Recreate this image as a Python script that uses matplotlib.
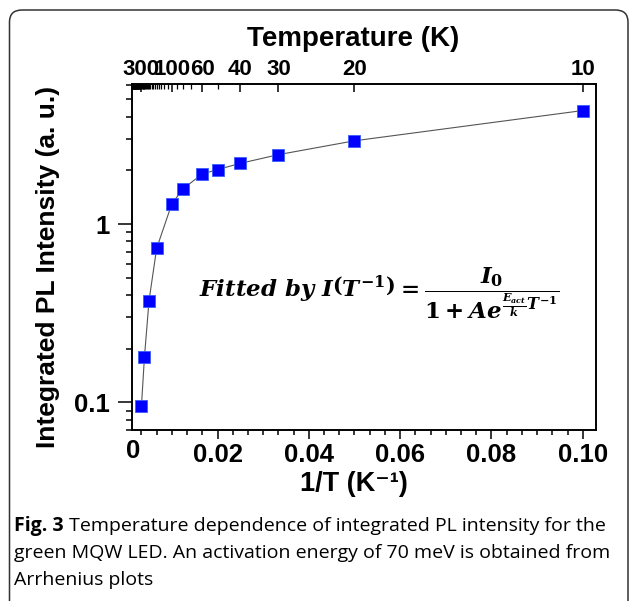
import numpy as np
import matplotlib
matplotlib.use('Agg')
import matplotlib.pyplot as plt
from matplotlib.ticker import MultipleLocator, LogLocator, NullFormatter, FixedLocator
from matplotlib.patches import FancyBboxPatch

# data
temp_K = [300, 250, 200, 150, 100, 80, 60, 50, 40, 30, 20, 10]
pl_intensity = [0.095, 0.180, 0.372, 0.730, 1.30, 1.58, 1.91, 2.02, 2.19, 2.45, 2.93, 4.33]
inv_T = [1.0 / t for t in temp_K]

top_labels_T = [300, 100, 60, 40, 30, 20, 10]
top_minor_T = [50, 70, 80, 90] + list(range(110, 300, 10)) + list(range(310, 1000, 10))

x_ticks = [0.02, 0.04, 0.06, 0.08, 0.10]
x_ticklabels = ['0.02', '0.04', '0.06', '0.08', '0.10']
y_ticks = [0.1, 1]
y_ticklabels = ['0.1', '1']

caption_bold = 'Fig. 3'
caption_lines = [' Temperature dependence of integrated PL intensity for the',
                 'green MQW LED. An activation energy of 70 meV is obtained from',
                 'Arrhenius plots']

plt.rcParams['font.family'] = ['Liberation Sans', 'DejaVu Sans']
plt.rcParams['mathtext.fontset'] = 'custom'
plt.rcParams['mathtext.it'] = 'DejaVu Serif:bold:italic'
plt.rcParams['mathtext.rm'] = 'DejaVu Serif:bold'
plt.rcParams['mathtext.bf'] = 'DejaVu Serif:bold'

W, H = 630, 601
fig = plt.figure(figsize=(W / 100, H / 100), dpi=100)

# rounded frame round the figure
frame = FancyBboxPatch((9.5 / W, -20 / H), (628 - 9.5) / W, (H - 10 + 20) / H,
                       boxstyle='round,pad=0,rounding_size=0.02',
                       transform=fig.transFigure, fill=False, ec='#333333', lw=1.1)
fig.patches.append(frame)

L, R, T, B = 131.5, 596, 84, 430
ax = fig.add_axes([L / W, 1 - B / H, (R - L) / W, (B - T) / H])

ax.plot(inv_T, pl_intensity, color='#555555', lw=0.8, zorder=2)
ax.plot(inv_T, pl_intensity, ls='none', marker='s', ms=9, mfc='#0000ff', mec='#3a5cff', mew=0.6, zorder=3)

ax.set_yscale('log')
ax.set_xlim(0.00116, 0.1029)
ax.set_ylim(0.070, 6.1)

ax.set_xticks(x_ticks)
ax.set_xticklabels(x_ticklabels)
ax.xaxis.set_minor_locator(MultipleLocator(0.02 / 6))
ax.set_yticks(y_ticks)
ax.set_yticklabels(y_ticklabels)
ax.yaxis.set_minor_locator(LogLocator(base=10, subs=np.arange(2, 10)))
ax.yaxis.set_minor_formatter(NullFormatter())

for lab in ax.get_xticklabels() + ax.get_yticklabels():
    lab.set_fontweight('bold')
ax.tick_params(axis='x', which='major', direction='out', length=6.5, width=1.1, labelsize=18.5, pad=2.5)
ax.tick_params(axis='x', which='minor', direction='out', length=3.6, width=1.1)
ax.tick_params(axis='y', which='major', direction='out', length=9.8, width=1.1, labelsize=18.5, pad=6)
ax.tick_params(axis='y', which='minor', direction='out', length=4.6, width=1.1)
for s in ax.spines.values():
    s.set_linewidth(1.2)

# "0" at the left end of the axis
ax.text(0.003, -0.06, '0', transform=ax.transAxes, ha='center', va='center',
        fontsize=18.5, fontweight='bold')

ax.set_xlabel('1/T (K\u207b\u00b9)', fontsize=19.5, fontweight='bold', va='center')
ax.xaxis.set_label_coords(0.479, -0.156)
ax.set_ylabel('Integrated PL Intensity (a. u.)', fontsize=19, fontweight='bold', va='center')
ax.yaxis.set_label_coords(-0.18, 0.472)

# top axis: temperature
ax_top = ax.twiny()
ax_top.set_xlim(ax.get_xlim())
ax_top.set_xticks([1.0 / t for t in top_labels_T])
ax_top.set_xticklabels([str(t) for t in top_labels_T], fontweight='bold')
ax_top.xaxis.set_minor_locator(FixedLocator([1.0 / t for t in top_minor_T]))
ax_top.tick_params(axis='x', which='major', direction='in', length=6, width=1.1, labelsize=16, pad=3)
ax_top.tick_params(axis='x', which='minor', direction='in', length=3.5, width=0.9)
for s in ax_top.spines.values():
    s.set_linewidth(1.2)
ax_top.set_xlabel('Temperature (K)', fontsize=20, fontweight='bold', va='center')
ax_top.xaxis.set_label_coords(0.477, 1.130)

# fit equation
ax.text((199 - L) / (R - L), (B - 293) / (B - T),
        r'$Fitted\ by\ I\left(T^{-1}\right) = \dfrac{I_0}{1 + Ae^{\frac{E_{act}}{k}T^{-1}}}$',
        transform=ax.transAxes, ha='left', va='center', fontsize=16.5)

# caption
cap_font = ['Open Sans', 'DejaVu Sans']
t1 = fig.text(14 / W, 1 - 526 / H, caption_bold, fontsize=14, fontweight='bold',
              family=cap_font, va='center')
plt.annotate(caption_lines[0], xy=(1, 0.5), xycoords=t1, va='center', ha='left',
             fontsize=14, family=cap_font)
fig.text(14 / W, 1 - 553 / H, caption_lines[1], fontsize=14, family=cap_font, va='center')
fig.text(14 / W, 1 - 580 / H, caption_lines[2], fontsize=14, family=cap_font, va='center')

fig.savefig('out.png', dpi=100)
